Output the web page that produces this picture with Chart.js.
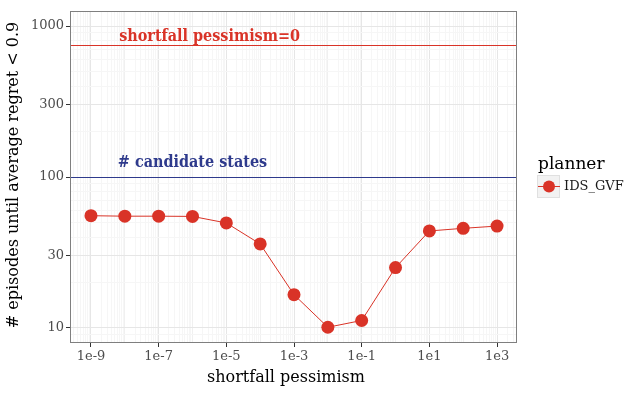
<!DOCTYPE html>
<html>
<head>
<meta charset="utf-8">
<script src="https://cdn.jsdelivr.net/npm/chart.js@4"></script>
<style>
  html, body { margin: 0; padding: 0; background: #fff; }
  #wrap { width: 642px; height: 394px; }
</style>
</head>
<body>
<div id="wrap"><canvas id="chart" width="642" height="394"></canvas></div>
<script>
// data
const pessimism = [1e-9, 1e-8, 1e-7, 1e-6, 1e-5, 1e-4, 1e-3, 1e-2, 1e-1, 1e0, 1e1, 1e2, 1e3];
const episodes = [55.4, 55.0, 55.0, 54.8, 49.6, 36.0, 16.6, 10.1, 11.2, 25.1, 43.9, 45.7, 47.3];
const xTickValues = [1e-9, 1e-7, 1e-5, 1e-3, 1e-1, 1e1, 1e3];
const xTickLabels = ['1e-9', '1e-7', '1e-5', '1e-3', '1e-1', '1e1', '1e3'];
const yTickValues = [10, 30, 100, 300, 1000];
const yTickLabels = ['10', '30', '100', '300', '1000'];
const hlineValues = [750, 100];
const hlineNames = ['shortfall pessimism=0', '# candidate states'];
const hlineLabelX = [3.2e-6, 1.0e-6];
const hlineLabelY = [850, 124];
const xTitle = 'shortfall pessimism';
const yTitle = '# episodes until average regret < 0.9';

const serif = "'DejaVu Serif', serif";
const red = '#d93327';
const navy = '#2e3a8c';

function allTicks(lo, hi) {
    // decades plus 2..9 multiples, used for the grid
    const out = [];
    for (let e = lo; e <= hi; e++) {
        for (let m = 1; m <= 9; m++) out.push(m * Math.pow(10, e));
    }
    return out;
}
function isClose(a, b) { return Math.abs(a - b) / b < 1e-6; }

const extras = {
    id: 'extras',
    beforeDatasetsDraw(chart) {
        const { ctx, chartArea: a, scales: { y } } = chart;
        ctx.save();
        const cols = [red, navy];
        hlineValues.forEach((v, i) => {
            const py = Math.round(y.getPixelForValue(v)) + 0.5;
            ctx.strokeStyle = cols[i];
            ctx.lineWidth = 1;
            ctx.beginPath();
            ctx.moveTo(a.left, py);
            ctx.lineTo(a.right, py);
            ctx.stroke();
        });
        ctx.restore();
    },
    afterDatasetsDraw(chart) {
        const { ctx, chartArea: a, scales: { x, y } } = chart;
        ctx.save();
        const cols = [red, navy];
        ctx.font = "bold 16px 'DejaVu Serif Condensed', 'DejaVu Serif', serif";
        ctx.textAlign = 'center';
        ctx.textBaseline = 'middle';
        hlineNames.forEach((t, i) => {
            ctx.fillStyle = cols[i];
            const px = x.getPixelForValue(hlineLabelX[i]);
            const py = y.getPixelForValue(hlineLabelY[i]);
            // squeeze a little if the condensed face is missing
            const w = ctx.measureText(t).width;
            const target = i === 0 ? 182 : 151;
            const sx = w > target * 1.04 ? target / w : 1;
            ctx.save();
            ctx.translate(px, py);
            ctx.scale(sx, 1);
            ctx.fillText(t, 0, 0);
            ctx.restore();
        });
        // panel border
        ctx.strokeStyle = '#7f7f7f';
        ctx.lineWidth = 1;
        ctx.strokeRect(a.left + 0.5, a.top + 0.5, a.right - a.left - 1, a.bottom - a.top - 1);
        // axis titles
        ctx.fillStyle = '#000';
        ctx.font = '16px ' + serif;
        ctx.fillText(xTitle, 286, 378);
        ctx.save();
        ctx.translate(14, 175);
        ctx.rotate(-Math.PI / 2);
        ctx.fillText(yTitle, 0, 0);
        ctx.restore();
        // legend
        const lx = 538, ly = 152;
        ctx.font = '17px ' + serif;
        ctx.textAlign = 'left';
        ctx.fillText('planner', lx, ly + 13);
        ctx.fillStyle = '#f2f2f2';
        ctx.fillRect(lx - 1, ly + 23, 23, 23);
        ctx.strokeStyle = '#e0e0e0';
        ctx.strokeRect(lx - 0.5, ly + 23.5, 22, 22);
        ctx.strokeStyle = red;
        ctx.beginPath();
        ctx.moveTo(lx, ly + 34.5);
        ctx.lineTo(lx + 22, ly + 34.5);
        ctx.stroke();
        ctx.fillStyle = red;
        ctx.beginPath();
        ctx.arc(lx + 11, ly + 34.5, 6, 0, Math.PI * 2);
        ctx.fill();
        ctx.fillStyle = '#1a1a1a';
        ctx.font = '13px ' + serif;
        ctx.fillText('IDS_GVF', lx + 26, ly + 35);
        ctx.restore();
    }
};

function gridColor(labelled) {
    return (c) => {
        const v = c.tick && c.tick.value;
        if (v === undefined) return 'rgba(0,0,0,0)';
        if (labelled.some(t => isClose(v, t))) return '#e6e6e6';
        const lg = Math.log10(v);
        if (Math.abs(lg - Math.round(lg)) < 1e-6) return '#f0f0f0';
        return '#f6f6f6';
    };
}
function tickColor(labelled) {
    return (c) => {
        const v = c.tick && c.tick.value;
        return (v !== undefined && labelled.some(t => isClose(v, t))) ? '#333' : 'rgba(0,0,0,0)';
    };
}
function labelFor(values, labels) {
    return (v) => {
        const i = values.findIndex(t => isClose(v, t));
        return i >= 0 ? labels[i] : '';
    };
}

new Chart(document.getElementById('chart').getContext('2d'), {
    type: 'scatter',
    data: {
        datasets: [{
            label: 'IDS_GVF',
            data: pessimism.map((p, i) => ({ x: p, y: episodes[i] })),
            showLine: true,
            borderColor: red,
            backgroundColor: red,
            borderWidth: 1,
            pointRadius: 6.5,
            pointHoverRadius: 6.5,
            pointBorderWidth: 0
        }]
    },
    options: {
        responsive: false,
        animation: false,
        layout: { padding: { top: 11, right: 125, left: 0, bottom: 0 } },
        plugins: { legend: { display: false }, tooltip: { enabled: false } },
        scales: {
            x: {
                type: 'logarithmic',
                min: Math.pow(10, -9.62),
                max: Math.pow(10, 3.59),
                afterBuildTicks: (s) => { s.ticks = allTicks(-10, 3).filter(v => v >= s.min && v <= s.max).map(v => ({ value: v })); },
                afterFit: (s) => { s.height = 51; },
                border: { display: false },
                grid: { color: gridColor(xTickValues), tickColor: tickColor(xTickValues), tickLength: 4, lineWidth: 1 },
                ticks: {
                    autoSkip: false, maxRotation: 0, padding: 2,
                    color: '#4d4d4d', font: { family: serif, size: 13 },
                    callback: labelFor(xTickValues, xTickLabels)
                }
            },
            y: {
                type: 'logarithmic',
                min: Math.pow(10, 0.9),
                max: Math.pow(10, 3.1),
                afterBuildTicks: (s) => { s.ticks = allTicks(0, 3).filter(v => v >= s.min && v <= s.max).map(v => ({ value: v })); },
                afterFit: (s) => { s.width = 70; },
                border: { display: false },
                grid: { color: gridColor(yTickValues), tickColor: tickColor(yTickValues), tickLength: 4, lineWidth: 1 },
                ticks: {
                    autoSkip: false, padding: 2,
                    color: '#4d4d4d', font: { family: serif, size: 13 },
                    callback: labelFor(yTickValues, yTickLabels)
                }
            }
        }
    },
    plugins: [extras]
});
</script>
</body>
</html>
